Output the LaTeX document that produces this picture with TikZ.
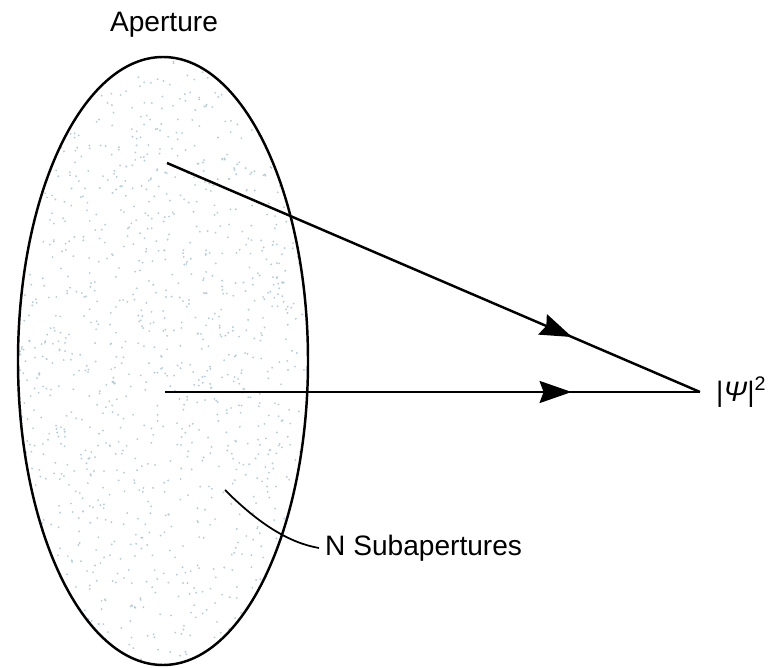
\documentclass[tikz,border=0pt]{standalone}
\usepackage{fontspec}
\setmainfont{Liberation Sans}
\usetikzlibrary{arrows.meta,decorations.markings,positioning}

\tikzset{
  ray/.style={line width=1.4pt, postaction={decorate},
    decoration={markings, mark=at position 0.76 with {\arrow{Stealth[inset=0.8mm,length=6.4mm,width=4.4mm]}}}},
  rim/.style={line width=1.4pt},
  leader/.style={line width=1pt},
  lbl/.style={font=\fontsize{16}{19}\selectfont},
  speck/.style={fill=cyan!35!gray!50},
}

\begin{document}
\begin{tikzpicture}[x=0.02cm, y=-0.02cm]
\useasboundingbox (0,0) rectangle (781,668);
% Speckled aperture
\pgfmathsetseed{11}
\begin{scope}
  \clip (163,361) ellipse [x radius=145, y radius=304];
  \foreach \i in {1,...,1400}
    \fill[speck] (rnd*300+13, rnd*620+52) circle (0.6pt);
\end{scope}
\draw[rim] (163,361) ellipse [x radius=145, y radius=304];
\node[lbl] (aperture) at (164,25) {Aperture};

% Rays to the focal point
\coordinate (upper) at (167,163);
\coordinate (centre) at (165,392);
\coordinate (focus) at (700,392);
\draw[ray] (upper) -- (focus);
\draw[ray] (centre) -- (focus);
\node[lbl, right=0.2cm of focus] (intensity) {|\textit{Ψ}|\textsuperscript{2}};

% Subaperture label
\coordinate (subap) at (225,490);
\node[lbl, anchor=west] (subs) at (319,548) {N Subapertures};
\draw[leader] (subap) .. controls (260,525) and (290,543) .. (subs.west);
\end{tikzpicture}
\end{document}
